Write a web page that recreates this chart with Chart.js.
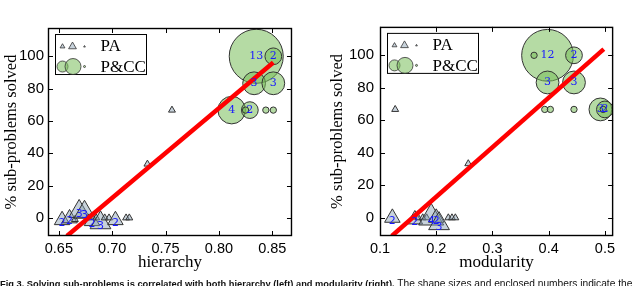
<!DOCTYPE html>
<html>
<head>
<meta charset="utf-8">
<script src="https://cdn.jsdelivr.net/npm/chart.js@4.4.1/dist/chart.umd.min.js"></script>
<style>
  html, body { margin: 0; padding: 0; background: #fff; width: 640px; height: 286px; overflow: hidden; }
  #wrap { position: relative; width: 640px; height: 286px; }
  .box { position: absolute; top: 0; width: 320px; height: 286px; }
  #caption { position: absolute; left: 0; top: 278px; font: 10.2px "Liberation Sans", Arial, sans-serif; white-space: nowrap; color: #111; }
  #caption b { font-size: 9.3px; }
</style>
</head>
<body>
<div id="wrap">
  <div class="box" style="left:0"><canvas id="left"></canvas></div>
  <div class="box" style="left:320px"><canvas id="right"></canvas></div>
  <div id="caption"><b>Fig 3. Solving sub-problems is correlated with both hierarchy (left) and modularity (right).</b> The shape sizes and enclosed numbers indicate the</div>
</div>
<script>
'use strict';
// values

const yTicks = [0, 20, 40, 60, 80, 100];

// left: hierarchy
const hierTicks = [0.65, 0.70, 0.75, 0.80, 0.85];
const hierPCx = [0.835, 0.851, 0.833, 0.851, 0.812, 0.829, 0.825, 0.844, 0.851];
const hierPCy = [100, 100, 83.3, 83.3, 66.7, 66.7, 66.7, 66.7, 66.7];
const hierPCn = [13, 2, 3, 3, 4, 2, 1, 1, 1];
const hierPAx = [0.756, 0.733, 0.653, 0.660, 0.665, 0.669, 0.674, 0.678, 0.681, 0.685, 0.689, 0.693, 0.697, 0.703, 0.713, 0.716];
const hierPAy = [66.7, 33.3, -1.4, -0.3, -1, 4, 3.5, 0, -2, 0, -3, 0, 0, -1.4, 0, 0];
const hierPAn = [1, 1, 2, 2, 1, 3, 3, 1, 2, 1, 3, 1, 1, 2, 1, 1];
const hierFitX = [0.6575, 0.851];
const hierFitY = [-11.2, 96.2];

// right: modularity
const modTicks = [0.1, 0.2, 0.3, 0.4, 0.5];
const modPCx = [0.398, 0.374, 0.445, 0.398, 0.445, 0.393, 0.403, 0.445, 0.492, 0.500, 0.497];
const modPCy = [100, 100, 100, 83.3, 83.3, 66.7, 66.7, 66.7, 66.7, 66.7, 66.7];
const modPCn = [12, 1, 2, 3, 3, 1, 1, 1, 3, 2, 1];
const modPAx = [0.127, 0.257, 0.122, 0.162, 0.168, 0.176, 0.183, 0.191, 0.200, 0.205, 0.2215, 0.228, 0.234];
const modPAy = [66.7, 33.3, 0, -1, 0, 0, 0, 0, 0, -3.6, 0, 0, 0];
const modPAn = [1, 1, 2, 2, 1, 1, 1, 4, 2, 3, 1, 1, 1];
const modFitX = [0.121, 0.498];
const modFitY = [-11.2, 103.8];

const GREEN = 'rgba(120,190,90,0.55)';
const GREY = 'rgba(130,155,175,0.45)';
const EDGE = '#333';
const TICKFONT = '"Liberation Sans", sans-serif';

function circleR(n) { return Math.sqrt(60 * n - 50); }
function triR(n) { return Math.sqrt(64 * n - 48); }

function points(xs, ys, ns, rfn) {
  return xs.map((x, i) => ({x: x, y: ys[i], r: rfn(ns[i])}));
}

// frame + inward ticks on all four sides
const framePlugin = {
  id: 'frame',
  afterDraw(chart) {
    const {ctx, chartArea: a, scales: {x, y}} = chart;
    ctx.save();
    ctx.strokeStyle = '#000';
    ctx.lineWidth = 1;
    ctx.beginPath();
    x.ticks.forEach(t => {
      const px = Math.round(x.getPixelForValue(t.value)) + 0.5;
      ctx.moveTo(px, a.bottom); ctx.lineTo(px, a.bottom - 5);
      ctx.moveTo(px, a.top); ctx.lineTo(px, a.top + 5);
    });
    y.ticks.forEach(t => {
      const py = Math.round(y.getPixelForValue(t.value)) + 0.5;
      ctx.moveTo(a.left, py); ctx.lineTo(a.left + 5, py);
      ctx.moveTo(a.right, py); ctx.lineTo(a.right - 5, py);
    });
    ctx.stroke();
    ctx.lineWidth = 1.4;
    ctx.strokeRect(a.left + 0.5, a.top + 0.5, a.right - a.left - 1, a.bottom - a.top - 1);
    ctx.restore();
  }
};

// numbers inside the markers
const countPlugin = {
  id: 'counts',
  afterDatasetsDraw(chart) {
    const ctx = chart.ctx;
    ctx.save();
    ctx.fillStyle = '#1a1aff';
    ctx.textAlign = 'center';
    ctx.textBaseline = 'middle';
    chart.data.datasets.forEach((ds, i) => {
      if (!ds.counts) return;
      ctx.font = ds.pointStyle === 'triangle' ? '11px "DejaVu Sans", sans-serif' : '11px "DejaVu Serif", serif';
      const dy = ds.pointStyle === 'triangle' ? 3 : 0;
      chart.getDatasetMeta(i).data.forEach((el, j) => {
        const n = ds.counts[j];
        if (n > 1) ctx.fillText(String(n), el.x, el.y + dy);
      });
    });
    ctx.restore();
  }
};

function drawTri(ctx, x, y, r) {
  ctx.beginPath();
  for (let k = 0; k < 3; k++) {
    const ang = k * 2 * Math.PI / 3;
    const px = x + Math.sin(ang) * r, py = y - Math.cos(ang) * r;
    if (k === 0) ctx.moveTo(px, py); else ctx.lineTo(px, py);
  }
  ctx.closePath();
}

const legendPlugin = {
  id: 'boxLegend',
  afterDraw(chart) {
    const {ctx, chartArea: a} = chart;
    const bx = a.left + 7.5, by = a.top + 6.5;
    ctx.save();
    ctx.fillStyle = '#fff';
    ctx.strokeStyle = '#000';
    ctx.lineWidth = 1;
    ctx.fillRect(bx, by, 91, 40);
    ctx.strokeRect(bx, by, 91, 40);
    ctx.lineWidth = 0.8;
    ctx.strokeStyle = EDGE;
    // PA row
    [[7, 2.8], [17, 4.5], [29, 1]].forEach(([dx, r]) => {
      drawTri(ctx, bx + dx, by + 12, r);
      ctx.fillStyle = GREY; ctx.fill(); ctx.stroke();
    });
    // P&CC row
    [[7, 5.5], [17.5, 8], [29, 1]].forEach(([dx, r]) => {
      ctx.beginPath();
      ctx.arc(bx + dx, by + 32, r, 0, 2 * Math.PI);
      ctx.fillStyle = GREEN; ctx.fill(); ctx.stroke();
    });
    ctx.fillStyle = '#000';
    ctx.font = '17px "Liberation Serif", serif';
    ctx.textBaseline = 'middle';
    ctx.fillText('PA', bx + 45, by + 12);
    ctx.fillText('P&CC', bx + 45, by + 33);
    ctx.restore();
  }
};

function makeChart(id, o) {
  return new Chart(document.getElementById(id), {
    type: 'bubble',
    data: {
      datasets: [
        {type: 'line', data: o.fitX.map((x, i) => ({x: x, y: o.fitY[i]})),
         borderColor: '#ff0000', borderWidth: 4.5, pointRadius: 0, fill: false, clip: 0},
        {data: points(o.pcX, o.pcY, o.pcN, circleR), counts: o.pcN, pointStyle: 'circle',
         backgroundColor: GREEN, borderColor: EDGE, borderWidth: 1},
        {data: points(o.paX, o.paY, o.paN, triR), counts: o.paN, pointStyle: 'triangle',
         backgroundColor: GREY, borderColor: EDGE, borderWidth: 1}
      ]
    },
    options: {
      responsive: true,
      maintainAspectRatio: false,
      animation: false,
      devicePixelRatio: 1,
      events: [],
      layout: {padding: {top: 1, right: o.padRight, left: 0, bottom: 0}},
      plugins: {legend: {display: false}, tooltip: {enabled: false}},
      scales: {
        x: {
          type: 'linear', min: o.xMin, max: o.xMax,
          afterBuildTicks: s => { s.ticks = o.xTicks.map(v => ({value: v})); },
          afterFit: s => { s.height = 50; },
          grid: {display: false, drawTicks: false},
          border: {display: false},
          ticks: {padding: 4, color: '#000', font: {family: TICKFONT, size: 14.5},
                  callback: v => v.toFixed(o.dec)},
          title: {display: true, text: o.xTitle, color: '#000', padding: {top: 0, bottom: 13},
                  font: {family: '"Liberation Serif", serif', size: 17}}
        },
        y: {
          type: 'linear', min: -11.2, max: 117.5,
          afterBuildTicks: s => { s.ticks = yTicks.map(v => ({value: v})); },
          afterFit: s => { s.width = o.yWidth; },
          grid: {display: false, drawTicks: false},
          border: {display: false},
          ticks: {padding: o.yPad, color: '#000', font: {family: TICKFONT, size: 15}},
          title: {display: true, text: '% sub-problems solved', color: '#000', padding: {top: o.yTitlePad, bottom: 0},
                  font: {family: '"Liberation Serif", serif', size: 16.5}}
        }
      }
    },
    plugins: [framePlugin, countPlugin, legendPlugin]
  });
}

makeChart('left', {
  fitX: hierFitX, fitY: hierFitY, pcX: hierPCx, pcY: hierPCy, pcN: hierPCn,
  paX: hierPAx, paY: hierPAy, paN: hierPAn, xTicks: hierTicks, xMin: 0.6398, xMax: 0.8685,
  dec: 2, xTitle: 'hierarchy', yWidth: 48, yPad: 4, yTitlePad: 2, padRight: 13
});
makeChart('right', {
  fitX: modFitX, fitY: modFitY, pcX: modPCx, pcY: modPCy, pcN: modPCn,
  paX: modPAx, paY: modPAy, paN: modPAn, xTicks: modTicks, xMin: 0.1, xMax: 0.5146,
  dec: 1, xTitle: 'modularity', yWidth: 60, yPad: 6, yTitlePad: 8, padRight: 4
});
</script>
</body>
</html>
